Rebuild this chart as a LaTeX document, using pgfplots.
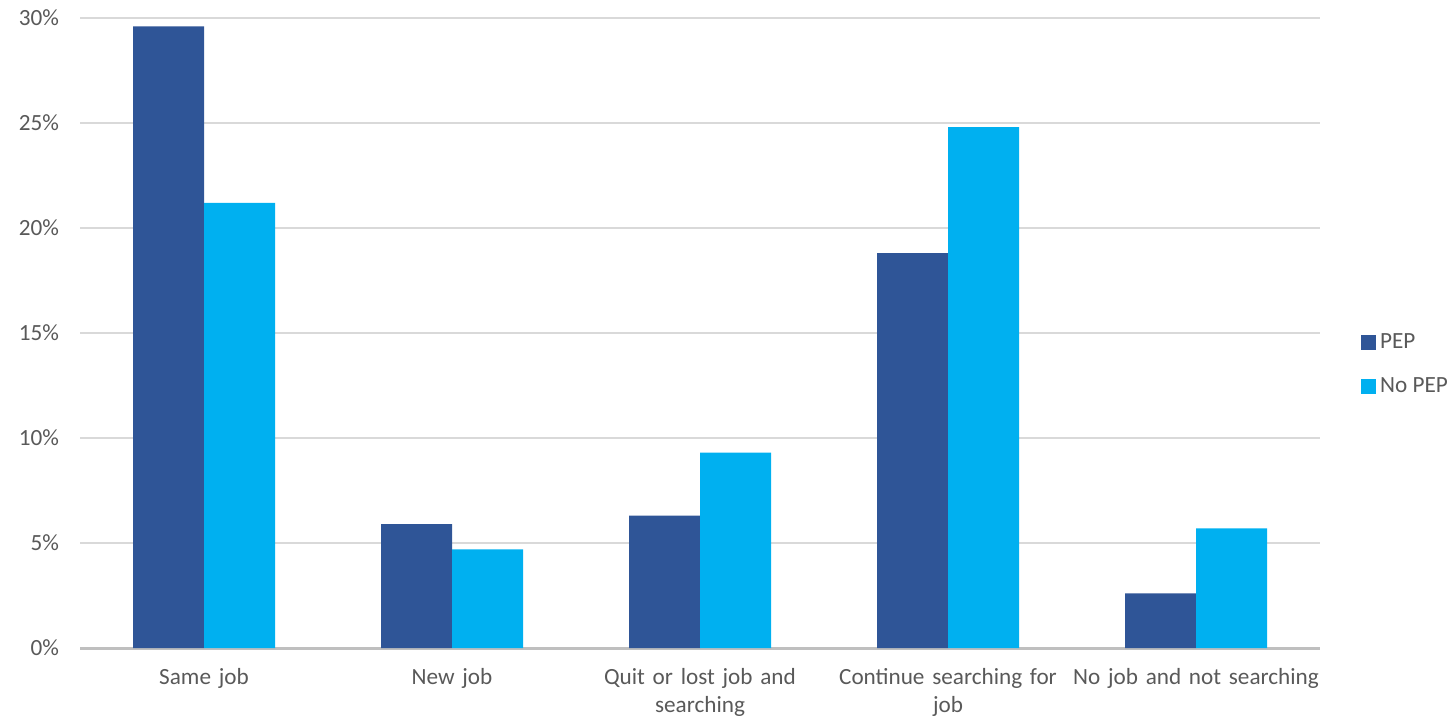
\documentclass[border=0pt]{standalone}
\usepackage{fontspec}
\setmainfont{Carlito}
\usepackage{pgfplots}
\pgfplotsset{compat=1.18}
\definecolor{pep}{HTML}{2F5597}
\definecolor{nopep}{HTML}{00B0F0}
\definecolor{txt}{HTML}{595959}
\definecolor{gridc}{HTML}{D9D9D9}
\definecolor{axisc}{HTML}{BFBFBF}
\begin{document}
\begin{tikzpicture}
\begin{axis}[
  at={(40pt,35.5pt)}, anchor=south west,
  width=620pt, height=315pt, scale only axis,
  ybar=0pt, bar width=35.5pt,
  xmin=-0.5, xmax=4.5, ymin=0, ymax=30,
  enlargelimits=false,
  xtick={0,1,2,3,4},
  xticklabels={Same job, New job, {Quit or lost job and\\searching}, {Continue searching for\\job}, {No job and not searching}},
  xticklabel style={align=center, text width=132pt, font=\fontsize{11.6}{14.3}\selectfont, text=txt, yshift=-6.5pt},
  ytick={0,5,10,15,20,25,30},
  yticklabel={\pgfmathprintnumber{\tick}\%},
  yticklabel style={font=\fontsize{11.6}{13}\selectfont, text=txt, xshift=-7pt},
  /pgf/number format/assume math mode=true,
  ymajorgrids, grid style={draw=gridc, line width=0.6pt},
  axis x line=bottom, axis y line=left,
  y axis line style={draw=none},
  x axis line style={-, draw=axisc, line width=1.5pt},
  major tick length=0pt,
  legend style={at={(1.028,0.45)}, anchor=west, draw=none, fill=none,
    font=\fontsize{11.6}{13}\selectfont, text=txt, row sep=9pt,
    /tikz/every even column/.append style={column sep=0pt}},
  legend cell align=left,
  legend image code/.code={\fill[#1] (0pt,-3.75pt) rectangle (7.5pt,3.75pt);},
]
\addplot[fill=pep, draw=none] coordinates {(0,29.6) (1,5.9) (2,6.3) (3,18.8) (4,2.6)};
\addplot[fill=nopep, draw=none] coordinates {(0,21.2) (1,4.7) (2,9.3) (3,24.8) (4,5.7)};
\legend{PEP, No PEP}
\end{axis}
\pgfresetboundingbox
\path[use as bounding box] (0,0) rectangle (727.5pt,359.5pt);
\end{tikzpicture}
\end{document}
